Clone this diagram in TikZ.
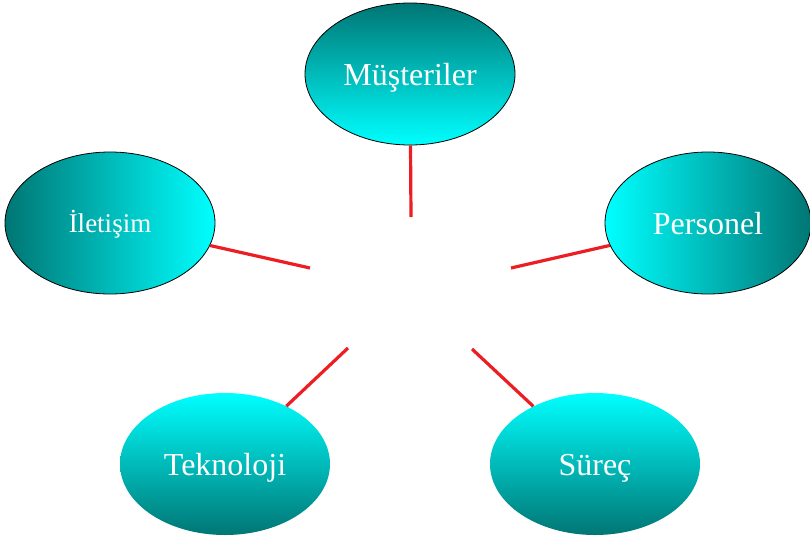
\documentclass[tikz,border=0pt]{standalone}
\usepackage{fontspec}
\setmainfont{Liberation Serif}
\usetikzlibrary{shapes.geometric}
\definecolor{darkteal}{RGB}{0,118,116}
\definecolor{lightcyan}{RGB}{0,255,255}
\definecolor{linkred}{RGB}{236,30,36}
\tikzset{
  blob/.style={ellipse, inner sep=0pt, minimum width=210pt, minimum height=142pt,
    text=white, font=\fontsize{32}{36}\selectfont, text height=26pt, text depth=3pt},
  outlined/.style={draw=black, line width=0.8pt},
  link/.style={draw=linkred, line width=3.2pt}
}
\begin{document}
\begin{tikzpicture}[x=1pt,y=-1pt]
\useasboundingbox (0,0) rectangle (810,541);
\node[blob, outlined, top color=darkteal, bottom color=lightcyan] (mus) at (410,74) {Müşteriler};
\node[blob, outlined, left color=darkteal, right color=lightcyan, font=\fontsize{27}{32}\selectfont, text height=20pt, text depth=2pt] (ile) at (110,223) {İletişim};
\node[blob, outlined, left color=lightcyan, right color=darkteal, minimum width=206pt] (per) at (708,223) {Personel};
\node[blob, top color=lightcyan, bottom color=darkteal] (tek) at (225,464) {Teknoloji};
\node[blob, top color=lightcyan, bottom color=darkteal] (sur) at (595,464) {Süreç};
\coordinate (cm) at (411,217);
\coordinate (ci) at (310,268);
\coordinate (cp) at (511,268);
\coordinate (ct) at (348,348);
\coordinate (cs) at (472,349);
\draw[link] (mus) -- (cm);
\draw[link] (ile) -- (ci);
\draw[link] (per) -- (cp);
\draw[link] (tek) -- (ct);
\draw[link] (sur) -- (cs);
\end{tikzpicture}
\end{document}
